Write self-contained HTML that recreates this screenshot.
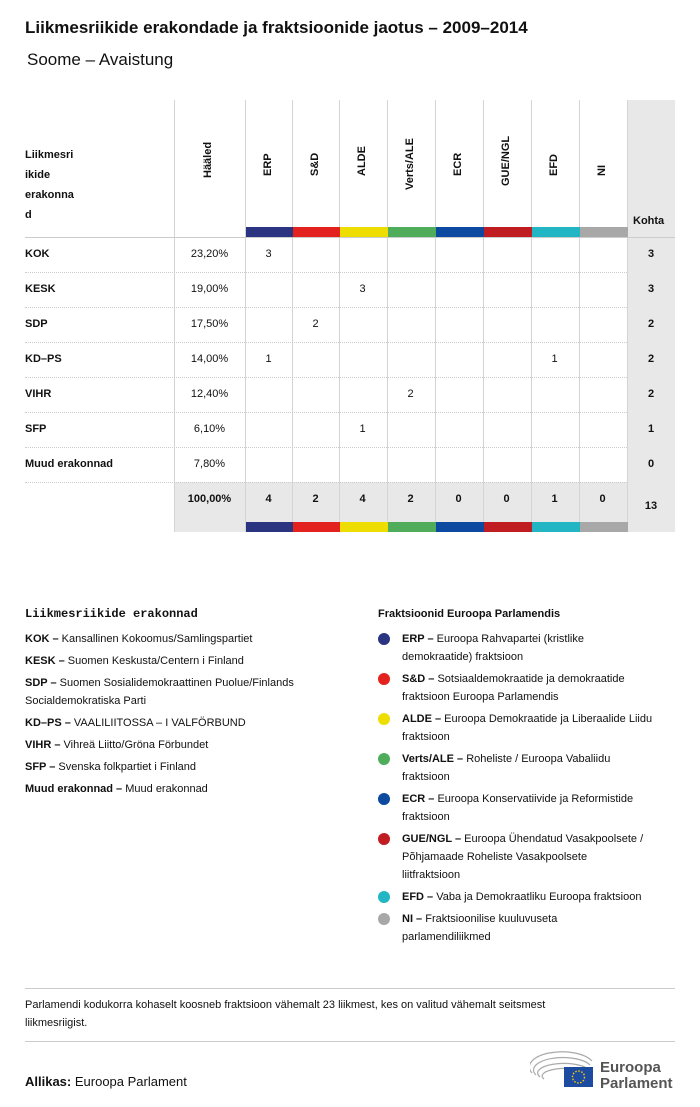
<!DOCTYPE html>
<html><head><meta charset="utf-8">
<style>
*{margin:0;padding:0;box-sizing:border-box}
body{width:700px;height:1107px;background:#fff;font-family:"Liberation Sans",sans-serif;color:#111;position:relative;overflow:hidden}
.a{position:absolute}
.t{font-size:11px;white-space:nowrap}
.b{font-weight:bold}
.cell{position:absolute;font-size:11px;text-align:center;line-height:35px}
.vl{position:absolute;width:1px;background:#d4d4d4}
.rot{position:absolute;font-size:11px;font-weight:bold;transform:rotate(-90deg);transform-origin:left top;white-space:nowrap}
.dot{position:absolute;width:12px;height:12px;border-radius:50%}
.lg{position:absolute;font-size:11px;line-height:18px;white-space:nowrap}
</style></head><body>
<div class="a b" style="left:25px;top:18px;font-size:17px">Liikmesriikide erakondade ja fraktsioonide jaotus – 2009–2014</div>
<div class="a" style="left:27px;top:50px;font-size:17px">Soome – Avaistung</div>
<div id="tbl"></div>

<div class="a b" style="left:25px;top:607px;font-size:12px;font-family:'Liberation Mono',monospace">Liikmesriikide erakonnad</div>
<div id="pl"></div>
<div class="a b t" style="left:378px;top:608px">Fraktsioonid Euroopa Parlamendis</div>
<div id="gl"></div>

<div class="a" style="left:25px;top:988px;width:650px;height:1px;background:#ccc"></div>
<div class="a" style="left:25px;top:996px;width:640px;font-size:11px;line-height:18px">Parlamendi kodukorra kohaselt koosneb fraktsioon vähemalt 23 liikmest, kes on valitud vähemalt seitsmest<br>liikmesriigist.</div>
<div class="a" style="left:25px;top:1041px;width:650px;height:1px;background:#ccc"></div>
<div class="a" style="left:25px;top:1074px;font-size:13px"><b>Allikas:</b> Euroopa Parlament</div>
<div class="a" style="left:530px;top:1051px;width:150px;height:40px">
<svg width="150" height="40">
<g fill="none" stroke="#aaa" stroke-width="1.2">
<path d="M2 22 A30 14 0 0 1 62 10"/><path d="M6 24 A26 11 0 0 1 60 14"/><path d="M10 26 A22 8 0 0 1 58 18"/><path d="M14 28 A18 6 0 0 1 56 22"/></g>
<rect x="34" y="16" width="29" height="20" fill="#1c4ba0"/>
<circle cx="48.5" cy="26" r="6" fill="none" stroke="#fc0" stroke-width="1.4" stroke-dasharray="1.5 1.6"/>
<text x="70" y="21" font-size="15" font-weight="bold" fill="#555" font-family="Liberation Sans">Euroopa</text>
<text x="70" y="37" font-size="15" font-weight="bold" fill="#555" font-family="Liberation Sans">Parlament</text>
</svg></div>

<script>
const groups=["ERP","S&D","ALDE","Verts/ALE","ECR","GUE/NGL","EFD","NI"];
const groupColors=["#2b3480","#e3211f","#eddd00","#4fac5a","#0b4aa0","#c01d22","#22b6c4","#a8a8a8"];
const parties=["KOK","KESK","SDP","KD–PS","VIHR","SFP","Muud erakonnad"];
const votes=["23,20%","19,00%","17,50%","14,00%","12,40%","6,10%","7,80%"];
const seats=[[3,0,0,0,0,0,0,0],[0,0,3,0,0,0,0,0],[0,2,0,0,0,0,0,0],[1,0,0,0,0,0,1,0],[0,0,0,2,0,0,0,0],[0,0,1,0,0,0,0,0],[0,0,0,0,0,0,0,0]];
const totalVotes="100,00%";
const tbl=document.getElementById('tbl');
const colX=[245,292,339,387,435,483,531,579,627];
const top0=100,hdrB=237,rowH=35;
function mk(cls,css,txt){const d=document.createElement('div');d.className=cls;d.style.cssText=css;if(txt!==undefined)d.textContent=txt;tbl.appendChild(d);return d;}
const nR=parties.length, totTop=hdrB+nR*rowH, totB=totTop+50;
let k=mk('a','left:627px;top:'+top0+'px;width:48px;height:'+(totB-top0)+'px;background:#e8e8e8');


let tr=mk('a','left:174px;top:'+totTop+'px;width:453px;height:50px;background:#e8e8e8');


[174].concat(colX).forEach(x=>{let v=mk('vl','left:'+x+'px;top:'+top0+'px;height:'+(totB-top0)+'px');

});
let ph=mk('a b','left:25px;top:145px;width:70px;font-size:11px;line-height:20px;font-weight:bold');
ph.innerHTML='Liikmesri<br>ikide<br>erakonna<br>d';


let hh=mk('rot','left:202px;top:178px','Hääled');


groups.forEach((g,i)=>{
 const cx=colX[i]+23.5;
 let r=mk('rot','left:'+(cx-7)+'px;top:'+(i===3?190:i===5?186:176)+'px',g);
 
 
 let s=mk('a','left:'+(colX[i]+1)+'px;top:227px;width:'+(colX[i+1]-colX[i])+'px;height:10px;background:'+groupColors[i]);
 
 
 let s2=mk('a','left:'+(colX[i]+1)+'px;top:'+(totB-10)+'px;width:'+(colX[i+1]-colX[i])+'px;height:10px;background:'+groupColors[i]);
 
 
});
let kh=mk('a b t','left:633px;top:215px','Kohta');


let hl=mk('a','left:25px;top:'+hdrB+'px;width:650px;height:1px;background:#ccc');


parties.forEach((p,r)=>{
 const y=hdrB+r*rowH;
 let n=mk('cell','left:25px;top:'+y+'px;text-align:left;font-weight:bold',p);
 
 
 let v=mk('cell','left:174px;top:'+y+'px;width:71px',votes[r]);
 
 
 let tot=0;
 seats[r].forEach((s,i)=>{tot+=s;if(s){let c=mk('cell','left:'+colX[i]+'px;top:'+y+'px;width:47px',s);
 
 }});
 let t=mk('cell','left:627px;top:'+y+'px;width:48px;font-weight:bold',tot);
 
 
 let l=mk('a','left:25px;top:'+(y+rowH)+'px;width:602px;height:0;border-top:1px dotted #ccc');
 
 
});
let tv=mk('cell','left:174px;top:'+totTop+'px;width:71px;font-weight:bold',totalVotes);


let grand=0;
groups.forEach((g,i)=>{let s=seats.reduce((a,r)=>a+r[i],0);grand+=s;
 let c=mk('cell','left:'+colX[i]+'px;top:'+totTop+'px;width:47px;font-weight:bold',s);
 
 });
let gt=mk('cell','left:627px;top:'+(totTop+7)+'px;width:48px;font-weight:bold',grand);



const partyFull=["Kansallinen Kokoomus/Samlingspartiet","Suomen Keskusta/Centern i Finland","Suomen Sosialidemokraattinen Puolue/Finlands<br>Socialdemokratiska Parti","VAALILIITOSSA – I VALFÖRBUND","Vihreä Liitto/Gröna Förbundet","Svenska folkpartiet i Finland","Muud erakonnad"];
const pl=document.getElementById('pl');
let py=630;
parties.forEach((p,i)=>{const d=document.createElement('div');d.className='lg';d.style.cssText='left:25px;top:'+py+'px';
d.innerHTML='<b>'+p+' –</b> '+partyFull[i];


pl.appendChild(d);py+=(i===2?40:22);});
const groupFull=["Euroopa Rahvapartei (kristlike<br>demokraatide) fraktsioon","Sotsiaaldemokraatide ja demokraatide<br>fraktsioon Euroopa Parlamendis","Euroopa Demokraatide ja Liberaalide Liidu<br>fraktsioon","Roheliste / Euroopa Vabaliidu<br>fraktsioon","Euroopa Konservatiivide ja Reformistide<br>fraktsioon","Euroopa Ühendatud Vasakpoolsete /<br>Põhjamaade Roheliste Vasakpoolsete<br>liitfraktsioon","Vaba ja Demokraatliku Euroopa fraktsioon","Fraktsioonilise kuuluvuseta<br>parlamendiliikmed"];
const gTops=[630,670,710,750,790,830,888,910];
const gl=document.getElementById('gl');
groups.forEach((g,i)=>{
 const dot=document.createElement('div');dot.className='dot';dot.style.cssText='left:378px;top:'+(gTops[i]+3)+'px;background:'+groupColors[i];
 
 
 gl.appendChild(dot);
 const d=document.createElement('div');d.className='lg';d.style.cssText='left:402px;top:'+gTops[i]+'px';
 d.innerHTML='<b>'+g.replace('&','&amp;')+' –</b> '+groupFull[i];
 
 
 gl.appendChild(d);
});
</script>
</body></html>
